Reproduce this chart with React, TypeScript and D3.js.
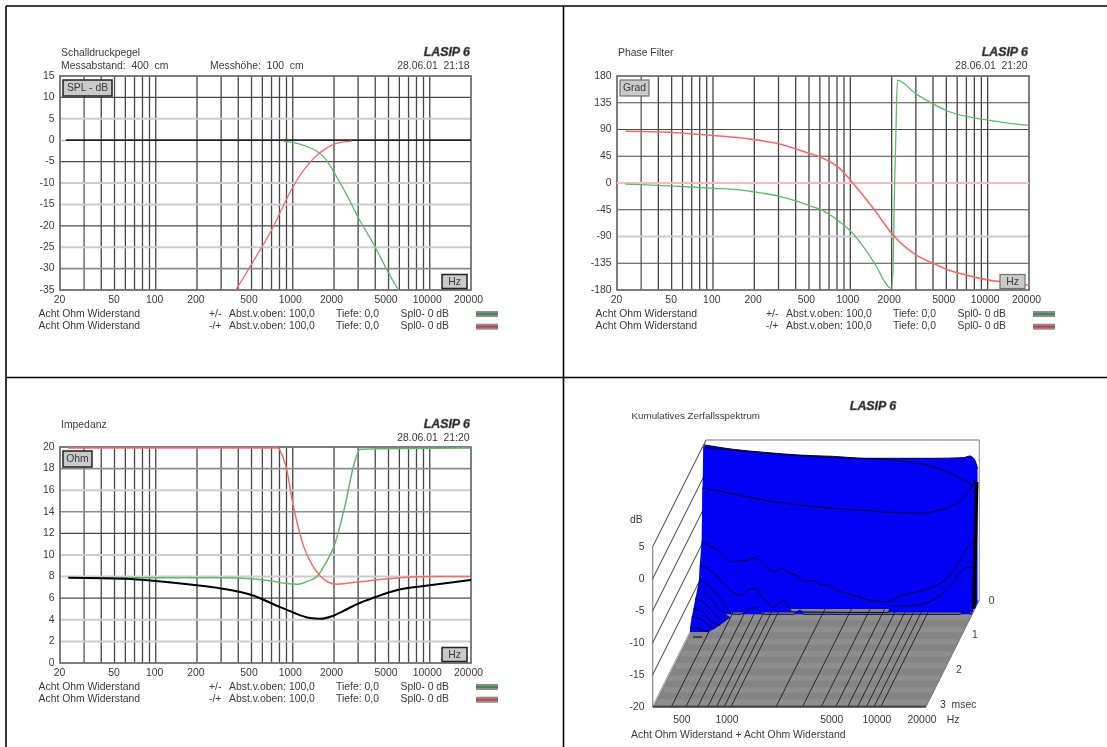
import React from "react";
import * as d3 from "d3";

type P = [number, number];

const freqTicks = [20,30,40,50,60,70,80,90,100,200,300,400,500,600,700,800,900,1000,2000,3000,4000,5000,6000,7000,8000,9000,10000,20000];
const freqLabels = [20,50,100,200,500,1000,2000,5000,10000,20000];

const splTicks = [15,10,5,0,-5,-10,-15,-20,-25,-30,-35];
const phaseTicks = [180,135,90,45,0,-45,-90,-135,-180];
const ohmTicks = [20,18,16,14,12,10,8,6,4,2,0];

const splGreen: P[] = [[850,-0.2],[1000,-0.5],[1200,-1.2],[1500,-2.6],[1700,-4],[2000,-7.5],[2500,-13],[3000,-18],[4000,-25],[5000,-31],[5900,-35]];
const splRed: P[] = [[385,-35],[500,-29],[700,-21],[1000,-11],[1200,-7],[1500,-3.5],[1700,-2.2],[2000,-0.9],[2700,-0.2]];
const splZero: P[] = [[22,0],[20000,0]];
const splZeroStub: P[] = [[20,-0.1],[22,-0.1]];

const phaseRed: P[] = [[23,87],[50,85],[100,80],[200,73],[300,66],[500,50],[600,44],[833,25],[1017,3],[1250,-22],[1497,-45],[2040,-87],[3010,-121],[4000,-135],[5000,-145],[7000,-155],[10000,-163],[15000,-168],[20000,-172]];
const phaseGreen: P[] = [[23,-2],[50,-5],[100,-9],[150,-11],[200,-15],[300,-22],[400,-30],[500,-38],[600,-44],[833,-65],[1017,-82],[1250,-108],[1500,-135],[1990,-177],[2040,-150],[2100,-5],[2150,90],[2200,173],[3000,150],[4000,133],[5000,122],[7000,112],[10000,106],[15000,100],[20000,97]];
const phaseZero: P[] = [[20,0],[20000,0]];

const ohmRed: P[] = [[23,19.9],[780,19.9],[850,19],[900,18],[1000,14.8],[1100,12.5],[1200,10.8],[1400,9],[1600,8],[1800,7.5],[2100,7.3],[3000,7.5],[5000,7.8],[10000,8],[20000,8]];
const ohmGreen: P[] = [[23,7.9],[300,7.9],[500,7.8],[700,7.6],[900,7.35],[1100,7.3],[1300,7.6],[1500,8],[1750,9.3],[2000,10.8],[2400,14.5],[2800,18.4],[3100,19.8],[20000,19.9]];
const ohmBlack: P[] = [[23,7.9],[60,7.8],[100,7.6],[200,7.2],[300,6.9],[500,6.3],[800,5.2],[1000,4.7],[1300,4.2],[1600,4.1],[1900,4.3],[2500,5],[3000,5.5],[4000,6.1],[6000,6.8],[10000,7.2],[20000,7.7]];

// waterfall slices: [frequency Hz, dB]
const sliceA: P[] = [[300,4.8],[469,4.1],[784,3.6],[1308,3.2],[2182,3],[3640,2.7],[6080,2.7],[10150,2.7],[16090,2.8],[17800,3.06],[19200,2.4],[20000,1.1]];
const sliceB: P[] = [[300,4.69],[794,3.75],[2212,3.07],[4530,2.86],[7570,2.29],[10290,1.67],[15110,0],[18070,-1.04],[20000,-2.24]];
const sliceC: P[] = [[300,-1.34],[483,-2.33],[806,-3.37],[1345,-4.05],[2247,-4.57],[3750,-4.93],[6260,-5.25],[8080,-5.3],[10450,-5.09],[13500,-4.31],[16570,-3],[18830,-1.18],[20000,-0.14]];
const sliceD: P[] = [[300,-9.5],[379,-10.8],[489,-12.62],[570,-12.46],[682,-12.1],[775,-12.88],[904,-14.18],[1028,-13.66],[1169,-14.44],[1328,-14.86],[1509,-15.74],[1672,-15.48],[1853,-16.27],[2053,-16.11],[2274,-16.89],[2792,-17.57],[3795,-18.51],[5165,-18.87],[6340,-17.98],[8190,-17.31],[10590,-16.53],[13660,-14.7],[15940,-12.36],[18580,-9.86],[20000,-9.34]];
const sliceE: P[] = [[300,-12.59],[351,-13.37],[410,-14.93],[478,-16.5],[557,-17.28],[617,-16.65],[701,-16.23],[797,-17.8],[930,-19.1],[1084,-18.16],[1252,-19.9],[5300,-20],[5880,-19],[6510,-19],[8410,-18.84],[10870,-18.06],[14050,-15.97],[17680,-13.11],[20000,-12.85]];
const sliceF: P[] = [[300,-14.66],[356,-15.7],[415,-17.52],[472,-19.34],[510,-20],[565,-20],[642,-19.34],[711,-18.93],[808,-20],[1283,-20],[1418,-19.34],[1509,-20],[16600,-20],[17920,-18.93],[18800,-19.6],[20000,-20]];
const sliceG: P[] = [[300,-15.66],[356,-16.6],[416,-18.53],[498,-20]];
const sliceH: P[] = [[300,-16.41],[348,-17.19],[406,-19.01],[473,-20]];
const sliceI: P[] = [[300,-17.41],[349,-18.09],[396,-19.5],[451,-20]];
const sliceJ: P[] = [[300,-18.16],[349,-18.68],[397,-19.72],[429,-20]];
const sliceK: P[] = [[300,-19.27],[350,-19.58],[398,-20]];
const sliceTimes = [0.1,0.15,0.2,0.25,0.35,0.4,0.5,0.6,0.7,0.8,0.9];
const slices = [sliceA,sliceB,sliceC,sliceD,sliceE,sliceF,sliceG,sliceH,sliceI,sliceJ,sliceK];

const wfFreqGrid = [400,500,600,700,800,900,1000,2000,3000,4000,5000,6000,7000,8000,9000,10000];
const wfFreqLabels = [500,1000,5000,10000,20000];
const wfDbTicks = [5,0,-5,-10,-15,-20];
const wfTimeLabels = ["0","1","2","3  msec"];
const wfStripes = [0.15,0.49,0.83,1.17,1.51,1.85,2.19,2.53,2.87];

type Style = "d" | "l" | "m" | "n";
const hStyle = { d:["#4a4a4a",1.2], l:["#cccccc",2], m:["#8c8c8c",1.6], n:["none",0] } as Record<Style,[string,number]>;
const splStyles: Style[] = ["d","d","l","n","d","l","l","d","l","m","d"];
const phaseStyles: Style[] = ["d","d","d","d","n","d","l","d","d"];
const ohmStyles: Style[] = ["d","m","l","m","d","l","l","d","l","l","d"];

const FONT = "'Liberation Sans', Arial, sans-serif";
const TXT = "#3a3a3a";
const T = (p: any) => <text fontFamily={FONT} fontSize={10.4} fill={TXT} dominantBaseline="middle" xmlSpace="preserve" {...p} />;

const Logo = ({ x, y, anchor = "end" }: any) => (
  <text x={x} y={y} textAnchor={anchor} dominantBaseline="middle" fontFamily={FONT} fontWeight="bold" fontStyle="italic" fontSize={12.4} fill="#222" stroke="#666" strokeWidth={0.6}>LASIP 6</text>
);

const Btn = ({ x, y, w, h, label, dark = true }: any) => (
  <g>
    <rect x={x} y={y} width={w} height={h} fill="#cacaca" stroke={dark ? "#222" : "#707070"} strokeWidth={dark ? 1.5 : 1.2} />
    <T x={x + w / 2} y={y + h / 2 + 0.5} textAnchor="middle">{label}</T>
  </g>
);

function Panel({ id, x0, x1, y0, y1, domain, ticks, styles, series, unit, unitW, dark, title, sub, date, logoY, titleY, dateY, labelY, legY }: any) {
  const x = d3.scaleLog().domain([20, 20000]).range([x0, x1]);
  const y = d3.scaleLinear().domain(domain).range([y1, y0]);
  const off = x0 - 60;
  const lineGen = (curve: any) => d3.line<P>().x(d => x(d[0])).y(d => y(d[1])).curve(curve);
  return (
    <g>
      <defs><clipPath id={id}><rect x={x0} y={y0 - 1} width={x1 - x0} height={y1 - y0 + 2} /></clipPath></defs>
      {freqTicks.slice(1, -1).map((f, i) => <line key={f} x1={x(f)} x2={x(f)} y1={y0} y2={y1} stroke={i === 0 ? "#777" : "#464646"} strokeWidth={i === 0 ? 1.6 : 1.3} />)}
      {ticks.map((t: number, i: number) => {
        if (i === 0 || i === ticks.length - 1 || styles[i] === "n") return null;
        const [c, w] = hStyle[styles[i] as Style];
        return <line key={t} x1={x0} x2={x1} y1={y(t)} y2={y(t)} stroke={c} strokeWidth={w} />;
      })}
      <rect x={x0} y={y0} width={x1 - x0} height={y1 - y0} fill="none" stroke="#707070" strokeWidth={1.8} />
      <g clipPath={`url(#${id})`}>
        {series.map((s: any, i: number) => (
          <path key={i} d={lineGen(s.linear ? d3.curveLinear : d3.curveMonotoneX)(s.data) as string} fill="none" stroke={s.color} strokeWidth={s.w} />
        ))}
      </g>
      {ticks.map((t: number) => <T key={t} x={x0 - 5.5} y={y(t)} textAnchor="end">{String(t)}</T>)}
      {freqLabels.map((f, i) => <T key={f} x={x(f) - (i < 2 ? 0.5 : i < 4 ? 1.2 : 2.5)} y={labelY} textAnchor="middle">{String(f)}</T>)}
      <Btn x={x0 + 3} y={y0 + 4} w={unitW} h={16} label={unit} dark={dark} />
      <Btn x={x1 - 29} y={y1 - 15.5} w={25} h={14} label="Hz" dark={dark} />
      <T x={x0 + 1} y={titleY}>{title}</T>
      {sub && <T x={x0 + 1} y={dateY + 0.5}>{sub[0]}</T>}
      {sub && <T x={x0 + 150} y={dateY + 0.5}>{sub[1]}</T>}
      <T x={x1 - 1.5} y={dateY} textAnchor="end">{date}</T>
      <Logo x={x1 - 1} y={logoY} />
      {[["+/-", "#3f8a4f"], ["-/+", "#d13f3f"]].map(([sign, col], i) => {
        const yy = legY + i * 12.7;
        return (
          <g key={sign}>
            <T x={off + 38.5} y={yy}>Acht Ohm Widerstand</T>
            <T x={off + 209} y={yy}>{sign}</T>
            <T x={off + 229} y={yy}>Abst.v.oben: 100,0</T>
            <T x={off + 336} y={yy}>Tiefe: 0,0</T>
            <T x={off + 400.5} y={yy}>Spl0- 0 dB</T>
            <rect x={off + 476} y={yy - 3} width={22} height={6} fill="#8c8c8c" />
            <rect x={off + 476} y={yy - 1} width={22} height={2} fill={col} />
          </g>
        );
      })}
    </g>
  );
}

function Waterfall() {
  const fx = d3.scaleLog().domain([300, 20000]).range([652.7, 926]);
  const dy = d3.scaleLinear().domain([-20, 5]).range([706.7, 546.7]);
  const tx = d3.scaleLinear().domain([3, 0]).range([0, 53.33]);
  const ty = d3.scaleLinear().domain([3, 0]).range([0, -106.67]);
  const px = (f: number, t: number) => fx(f) + tx(t);
  const py = (db: number, t: number) => dy(db) + ty(t);
  const floor = [[300,3],[20000,3],[20000,0],[300,0]].map(([f,t]) => `${px(f,t)},${py(-20,t)}`).join(" ");
  // silhouette joining the slices' left edges and the floor end points of the short slices
  const leftEdge: [number, number][] = slices.map((s, i) => [px(s[0][0], sliceTimes[i]), py(s[0][1], sliceTimes[i])]);
  const footEnd: [number, number][] = slices.map((s, i) => [px(s[s.length - 1][0], sliceTimes[i]), py(-20, sliceTimes[i])] as [number, number]).slice(6).reverse();
  const silhouette = d3.line()([...leftEdge, ...footEnd, [px(300,0.1), py(-20,0.4)]]) + "Z";
  return (
    <g>
      <T x={631.5} y={416.5} fontSize={9.8}>Kumulatives Zerfallsspektrum</T>
      <Logo x={873} y={407} anchor="middle" />
      <T x={630} y={520}>dB</T>
      <line x1={fx(300)} x2={fx(300)} y1={dy(5)} y2={dy(-20)} stroke="#888" strokeWidth={1.2} />
      <line x1={px(300,0)} x2={px(20000,0)} y1={py(5,0)} y2={py(5,0)} stroke="#a0a0a0" strokeWidth={1.4} />
      <line x1={px(20000,0)} x2={px(20000,0)} y1={py(5,0)} y2={py(-20,0)} stroke="#a0a0a0" strokeWidth={1.2} />
      {wfDbTicks.map(d => (
        <g key={d}>
          <line x1={fx(300)} y1={dy(d)} x2={px(300,0)} y2={py(d,0)} stroke="#3a3a3a" strokeWidth={1} />
          <T x={644.5} y={dy(d) + 1} textAnchor="end">{String(d)}</T>
        </g>
      ))}
      <polygon points={floor} fill="#848484" stroke="#f4f4f4" strokeWidth={0.6} />
      {wfStripes.map(t => <line key={t} x1={px(300,t)+2} x2={px(20000,t)-1} y1={py(-20,t)} y2={py(-20,t)} stroke="#8e8e8e" strokeWidth={5.5} />)}
      {wfFreqGrid.map(f => <line key={f} x1={px(f,3)} y1={py(-20,3)} x2={px(f,0)} y2={py(-20,0)} stroke="#262626" strokeWidth={1} />)}
      <line x1={px(20000,3)} y1={py(-20,3)} x2={px(20000,0)} y2={py(-20,0)} stroke="#707070" strokeWidth={1} />
      <line x1={px(300,3)} x2={px(20000,3)} y1={py(-20,3)} y2={py(-20,3)} stroke="#404040" strokeWidth={2} />
      <path d={silhouette} fill="#0000f4" />
      {slices.map((s, i) => {
        const t = sliceTimes[i];
        const top = d3.line<P>().x(d => px(d[0], t)).y(d => py(d[1], t)).curve(d3.curveMonotoneX);
        const area = d3.area<P>().x(d => px(d[0], t)).y0(py(-20, t)).y1(d => py(d[1], t)).curve(d3.curveMonotoneX);
        return (
          <g key={i}>
            <path d={area(s) as string} fill="#0000f4" />
            <path d={top(s) as string} fill="none" stroke="#04043a" strokeWidth={1} />
          </g>
        );
      })}
      <line x1={px(20000,0.2)+1} y1={py(-0.14,0.2)+2} x2={px(20000,0.4)+1.5} y2={py(-20,0.4)-6} stroke="#000" strokeWidth={3.4} />
      <line x1={px(300,0.9)+3} x2={px(300,0.9)+12} y1={py(-20,0.9)+5} y2={py(-20,0.9)+5} stroke="#000" strokeWidth={1} />
      {wfTimeLabels.map((l, i) => (
        <T key={l} x={[991.7,975,959,940][i]} y={[601,635.7,670.7,705][i]} textAnchor={i === 3 ? "start" : "middle"}>{l}</T>
      ))}
      {wfFreqLabels.map(f => <T key={f} x={fx(f) - 4} y={720.7} textAnchor="middle">{String(f)}</T>)}
      <T x={953} y={720.7} textAnchor="middle">Hz</T>
      <T x={631} y={735.7}>Acht Ohm Widerstand + Acht Ohm Widerstand</T>
    </g>
  );
}

const GREEN = "#5fb96a";
const RED = "#f26c6c";

export default function App() {
  return (
    <svg width={1107} height={747} viewBox="0 0 1107 747" style={{ position: "absolute", left: 0, top: 0, display: "block", background: "#fff" }}>
      <defs>
        <filter id="soft" x="0" y="0" width="1107" height="747" filterUnits="userSpaceOnUse" primitiveUnits="userSpaceOnUse">
          <feGaussianBlur stdDeviation="0.48" />
        </filter>
      </defs>
      <rect width={1107} height={747} fill="#fff" />
      <g filter="url(#soft)">
        <Panel id="c1" x0={60} x1={471} y0={76} y1={290} domain={[-35,15]} ticks={splTicks} styles={splStyles}
          series={[{data:splZeroStub,color:"#f2a0a0",w:1.4,linear:true},{data:splZero,color:"#222",w:1.8,linear:true},{data:splGreen,color:GREEN,w:1.3},{data:splRed,color:RED,w:1.3}]}
          unit="SPL - dB" unitW={49} dark title="Schalldruckpegel" sub={["Messabstand:  400  cm","Messhöhe:  100  cm"]}
          date="28.06.01  21:18" logoY={53} titleY={53} dateY={66} labelY={300} legY={314} />
        <Panel id="c2" x0={617} x1={1029} y0={76} y1={290} domain={[-180,180]} ticks={phaseTicks} styles={phaseStyles}
          series={[{data:phaseZero,color:"#f4bcbc",w:2,linear:true},{data:phaseGreen,color:GREEN,w:1.3},{data:phaseRed,color:RED,w:1.6}]}
          unit="Grad" unitW={29} dark={false} title="Phase Filter" date="28.06.01  21:20" logoY={53} titleY={53} dateY={66} labelY={300} legY={314} />
        <Panel id="c3" x0={60} x1={471} y0={447} y1={663} domain={[0,20]} ticks={ohmTicks} styles={ohmStyles}
          series={[{data:ohmGreen,color:GREEN,w:1.5},{data:ohmRed,color:RED,w:1.5},{data:ohmBlack,color:"#000",w:2}]}
          unit="Ohm" unitW={29} dark title="Impedanz" date="28.06.01  21:20" logoY={425} titleY={425.5} dateY={438} labelY={673.5} legY={687} />
        <Waterfall />
        <line x1={6} y1={6} x2={1107} y2={6} stroke="#000" strokeWidth={1.6} />
        <line x1={6} y1={6} x2={6} y2={747} stroke="#000" strokeWidth={1.6} />
        <line x1={563.5} y1={6} x2={563.5} y2={747} stroke="#000" strokeWidth={1.6} />
        <line x1={6} y1={377.5} x2={1107} y2={377.5} stroke="#000" strokeWidth={1.6} />
      </g>
    </svg>
  );
}
